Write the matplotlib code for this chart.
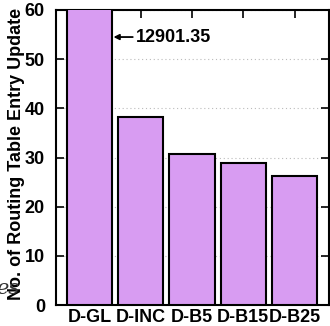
import matplotlib.pyplot as plt

schemes = ['D-GL', 'D-INC', 'D-B5', 'D-B15', 'D-B25']
updates = [12901.35, 38.3, 30.7, 28.8, 26.2]
gl_label = '12901.35'

plt.rcParams['font.family'] = ['Liberation Sans', 'DejaVu Sans']
plt.rcParams['font.weight'] = 'bold'

fig = plt.figure(figsize=(3.3, 3.26), dpi=100)
ax = fig.add_axes([56 / 330, 21 / 326, 273 / 330, 295 / 326])

ax.yaxis.grid(True, linestyle=(0, (1, 2.5)), color='#bbbbbb', linewidth=0.8)
ax.set_axisbelow(True)
ax.bar(range(len(schemes)), updates, width=0.88, color='#d89cf2',
       edgecolor='black', linewidth=1.5, zorder=3)

ax.set_ylim(0, 60)
ax.set_xlim(-0.65, 4.67)
ax.set_yticks(range(0, 61, 10))
ax.set_xticks(range(len(schemes)))
ax.set_xticklabels(schemes)
ax.tick_params(direction='in', length=6, width=1.2, labelsize=13,
               top=True, right=True, bottom=True, left=True)
ax.tick_params(axis='y', pad=8)
ax.tick_params(axis='x', pad=3)
for lab in ax.get_xticklabels() + ax.get_yticklabels():
    lab.set_fontweight('bold')
for sp in ax.spines.values():
    sp.set_linewidth(1.5)

ax.annotate(gl_label, xy=(0.47, 54.5), xytext=(0.9, 54.5),
            fontsize=13, fontweight='bold', va='center', ha='left',
            arrowprops=dict(arrowstyle='-|>', color='black', lw=1.3,
                            mutation_scale=8, shrinkA=0, shrinkB=0))

fig.text(17 / 330, 26 / 326, 'No. of Routing Table Entry Update', rotation=90,
         ha='center', va='bottom', fontsize=13, fontweight='bold')
fig.text(19 / 330, 38 / 326, 'es', fontsize=15, family='DejaVu Serif', style='italic',
         fontweight='normal', color='#333333', va='center', ha='right')

fig.savefig('out.png', dpi=100)
